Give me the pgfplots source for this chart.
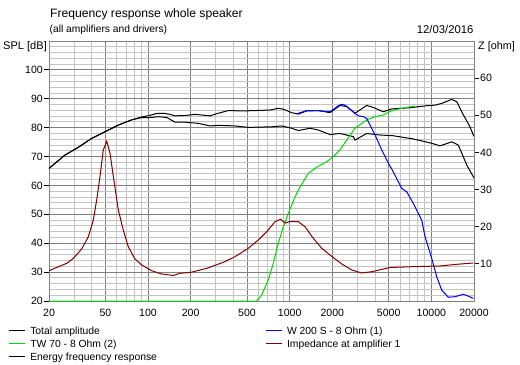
\documentclass[border=0pt]{standalone}
\usepackage{pgfplots}
\pgfplotsset{compat=1.18}
\usepackage{fontspec}
\setmainfont{Liberation Sans}
\definecolor{gmaj}{RGB}{128,128,128}
\definecolor{gmin}{RGB}{196,196,196}
\definecolor{twgreen}{RGB}{0,215,0}
\definecolor{wblue}{RGB}{0,0,255}
\definecolor{zred}{RGB}{128,0,0}
\pgfplotstableread{
f v
20 65.9
25.9 70.5
32.2 73.2
40.0 76.3
49.7 78.6
61.7 80.9
76.7 82.7
90.2 83.7
101.6 84.2
115 84.9
128 85.0
143 84.6
155 84.1
182 84.2
215 84.6
274 84.1
313 85.0
369 85.9
484 85.8
726 86.1
831 86.7
901 86.4
1033 85.2
1150 84.7
1318 85.8
1592 85.9
1926 85.2
2265 87.7
2526 87.3
2890 85.0
3496 87.7
3892 87.0
4578 85.5
5248 86.5
7066 86.9
9268 87.6
10608 87.8
11832 88.4
13918 89.8
15094 89.0
16374 85.5
18734 80.3
19772 77.5
20000 77.0
}\total
\pgfplotstableread{
f v
20 65.9
25.9 70.5
32.2 73.2
40.0 76.3
49.7 78.6
61.7 80.9
76.7 82.7
90.2 83.5
101.6 83.5
121 83.8
136 83.5
155 81.9
182 81.9
226 81.5
274 80.6
313 80.8
411 80.6
510 80.1
747 80.3
878 80.6
1033 79.8
1150 79.0
1391 79.8
1592 79.2
1926 77.6
2265 78.0
2812 76.9
2890 75.7
3496 78.0
4222 77.5
5386 77.2
7456 76.1
10052 74.6
11508 73.7
13918 75.1
15492 74.0
17766 67.1
19772 63.0
20000 62.5
}\energy
\pgfplotstableread{
f v
1121 84.8
1318 85.9
1592 85.9
1926 85.5
2204 87.6
2330 88.1
2458 87.8
2666 86.4
2890 84.9
3050 84.1
3307 83.8
3496 83.2
3688 80.9
4002 77.5
4462 72.3
4966 67.7
5248 65.7
6176 59.0
6698 57.8
7456 53.8
8548 48.0
9020 42.3
10052 34.8
10908 28.4
11832 23.8
13168 21.3
14684 21.5
16806 22.3
18224 21.7
19772 20.9
}\woofer
\pgfplotstableread{
f v
20 20
585 20
634 22.1
706 27.3
766 33.0
831 40.0
901 45.7
978 50.4
1033 53.2
1090 56.1
1150 58.4
1247 61.3
1353 64.2
1551 66.3
1825 68.2
2031 70.0
2265 72.3
2526 75.7
2890 79.8
3496 82.7
4002 83.8
4578 84.4
5248 85.9
6176 86.7
7264 87.3
7666 87.5
}\tweeter
\pgfplotstableread{
f v
20 8.16
23.3 9.23
26.7 10.15
29.7 11.5
34.0 14.0
37.9 17.3
41.1 21.8
43.4 27.2
45.8 33.5
48.3 40.65
51.1 43.0
53.9 39.8
56.9 33.5
61.7 24.5
66.9 19.1
72.6 14.6
80.9 11.3
90.2 9.7
106 8.16
125 7.27
151 6.87
168 7.46
201 7.73
260 8.8
349 10.58
411 11.93
510 14.19
600 16.42
688 18.66
788 21.35
860 22.0
930 21.0
1000 21.4
1150 21.35
1282 20.0
1468 16.88
1683 14.19
1926 12.38
2330 9.96
2740 8.35
3224 7.54
3791 7.89
5105 9.02
7264 9.23
9268 9.34
11508 9.42
15094 9.88
19772 10.23
}\imped
\begin{document}
\begin{tikzpicture}[x=1bp,y=1bp]
\path[use as bounding box] (0,0) rectangle (520,364);
\node[anchor=base west, inner sep=0pt, font=\fontsize{12.2}{14}\selectfont] at (50,347) {Frequency response whole speaker};
\node[anchor=base west, inner sep=0pt, font=\fontsize{10.3}{12}\selectfont] at (49.5,331.2) {(all amplifiers and drivers)};
\node[anchor=base east, inner sep=0pt, font=\fontsize{11.3}{13}\selectfont] at (473.5,331) {12/03/2016};
\node[anchor=base west, inner sep=0pt, font=\fontsize{11.1}{13}\selectfont] at (3,315) {SPL [dB]};
\node[anchor=base west, inner sep=0pt, font=\fontsize{10.9}{13}\selectfont] at (478,315) {Z [ohm]};
\begin{axis}[
  at={(49bp,63bp)}, anchor=south west,
  scale only axis, width=425bp, height=260bp,
  xmode=log, xmin=20, xmax=20000, ymin=20, ymax=110,
  clip=false,
  axis line style={gmaj, line width=0.8bp},
  xtick={20,50,100,200,500,1000,2000,5000,10000,20000},
  xticklabels={20,50,100,200,500,1000,2000,5000,10000,20000},
  minor xtick={30,40,60,70,80,90,300,400,600,700,800,900,3000,4000,6000,7000,8000,9000},
  ytick={20,30,40,50,60,70,80,90,100},
  yticklabels={20,30,40,50,60,70,80,90,100},
  minor ytick={22,24,26,28,32,34,36,38,42,44,46,48,52,54,56,58,62,64,66,68,72,74,76,78,82,84,86,88,92,94,96,98,102,104,106,108},
  xmajorgrids, ymajorgrids, xminorgrids, yminorgrids,
  major grid style={gmaj, line width=0.8bp},
  minor grid style={gmin, line width=0.8bp},
  xtick style={draw=none},
  ytick pos=left, xtick pos=bottom,
  tick align=outside, major tick length=5bp, minor tick length=0bp,
  ytick style={black, line width=0.8bp},
  tick label style={font=\fontsize{10.6}{12}\selectfont},
  xticklabel style={anchor=north, inner sep=0pt, yshift=-3bp},
  yticklabel style={anchor=east, inner sep=0pt, xshift=-1bp},
  legend style={at={(rel axis cs:-0.0958,-0.0990)}, anchor=north west, draw=none, fill=none,
    inner sep=0pt, outer sep=0pt, font=\fontsize{10.4}{12}\selectfont,
    nodes={inner sep=0pt, text height=7.5bp, text depth=0bp},
    row sep=5.5bp,
    /tikz/every odd column/.append style={column sep=5bp},
    /tikz/every even column/.append style={column sep=108bp}},
  legend columns=2, legend cell align=left,
  legend image code/.code={\draw[#1] (0bp,0bp) -- (16bp,0bp);},
]
\addplot[black, line width=1bp, forget plot] table[x=f,y=v] {\total};
\addplot[black, line width=1bp, forget plot] table[x=f,y=v] {\energy};
\addplot[twgreen, line width=1bp, forget plot] table[x=f,y=v] {\tweeter};
\addplot[wblue, line width=1bp, forget plot] table[x=f,y=v] {\woofer};
\addlegendimage{black, line width=1bp}
\addlegendentry{Total amplitude}
\addlegendimage{wblue, line width=1bp}
\addlegendentry{W 200 S - 8 Ohm (1)}
\addlegendimage{twgreen, line width=1bp}
\addlegendentry{TW 70 - 8 Ohm (2)}
\addlegendimage{zred, line width=1bp}
\addlegendentry{Impedance at amplifier 1}
\addlegendimage{black, line width=1bp}
\addlegendentry{Energy frequency response}
\end{axis}
\begin{axis}[
  at={(49bp,63bp)}, anchor=south west,
  scale only axis, width=425bp, height=260bp,
  xmode=log, xmin=20, xmax=20000, ymin=0, ymax=70,
  axis x line=none, axis y line*=right,
  y axis line style={gmaj, line width=0.8bp},
  ytick={10,20,30,40,50,60}, yticklabels={10,20,30,40,50,60},
  tick align=outside, major tick length=5bp, minor tick length=0bp,
  ytick style={black, line width=0.8bp},
  tick label style={font=\fontsize{10.6}{12}\selectfont},
  yticklabel style={anchor=west, inner sep=0pt, xshift=1bp},
]
\addplot[zred, line width=1bp] table[x=f,y=v] {\imped};
\end{axis}
\end{tikzpicture}
\end{document}
